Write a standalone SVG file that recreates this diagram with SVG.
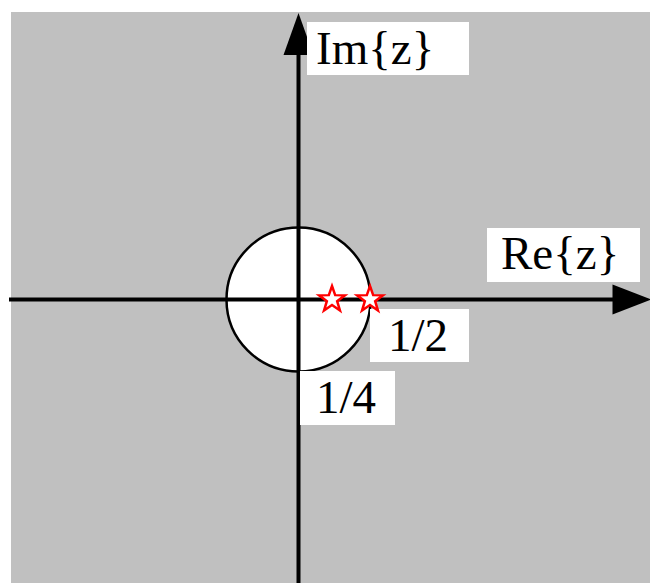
<svg xmlns="http://www.w3.org/2000/svg" width="650" height="583" viewBox="0 0 650 583">
  <style>
    .axis { stroke: #000; stroke-width: 4; fill: none; }
    .head { fill: #000; stroke: none; }
    .box { fill: #fff; stroke: none; }
    .lbl { font-family: "Liberation Serif", "Times New Roman", serif; font-size: 47px; fill: #000; }
    .star { fill: #fff; stroke: #f00; stroke-width: 2.5; stroke-linejoin: miter; }
  </style>
  <defs>
    <polygon id="star" points="0,-13.5 3.17,-4.37 12.84,-4.17 5.14,1.67 7.94,10.92 0,5.4 -7.94,10.92 -5.14,1.67 -12.84,-4.17 -3.17,-4.37"/>
  </defs>
  <rect x="11" y="12" width="639" height="571" fill="#c0c0c0"/>
  <g id="unit-circle">
    <circle cx="298.5" cy="299.5" r="72" fill="#fff" stroke="#000" stroke-width="2.5"/>
  </g>
  <g id="connectors">
    <line class="axis" x1="298.5" y1="583" x2="298.5" y2="50"/>
    <polygon class="head" points="298.5,13 313.5,55 283.5,55"/>
    <line class="axis" x1="9" y1="299.5" x2="618" y2="299.5"/>
    <polygon class="head" points="651,299.5 612.5,284.5 612.5,314.5"/>
  </g>
  <g id="label-im">
    <rect class="box" x="307" y="22" width="162" height="53"/>
    <text class="lbl" x="316" y="64">Im{z}</text>
  </g>
  <g id="label-re">
    <rect class="box" x="487" y="228" width="153" height="54"/>
    <text class="lbl" x="501" y="269">Re{z}</text>
  </g>
  <g id="label-half">
    <rect class="box" x="370" y="309" width="99" height="53"/>
    <text class="lbl" x="388" y="351">1/2</text>
  </g>
  <g id="label-quarter">
    <rect class="box" x="300" y="371" width="95" height="54"/>
    <text class="lbl" x="316" y="413">1/4</text>
  </g>
  <g id="pole-quarter">
    <use href="#star" class="star" x="332" y="299.5"/>
  </g>
  <g id="pole-half">
    <use href="#star" class="star" x="370" y="299.5"/>
  </g>
</svg>
